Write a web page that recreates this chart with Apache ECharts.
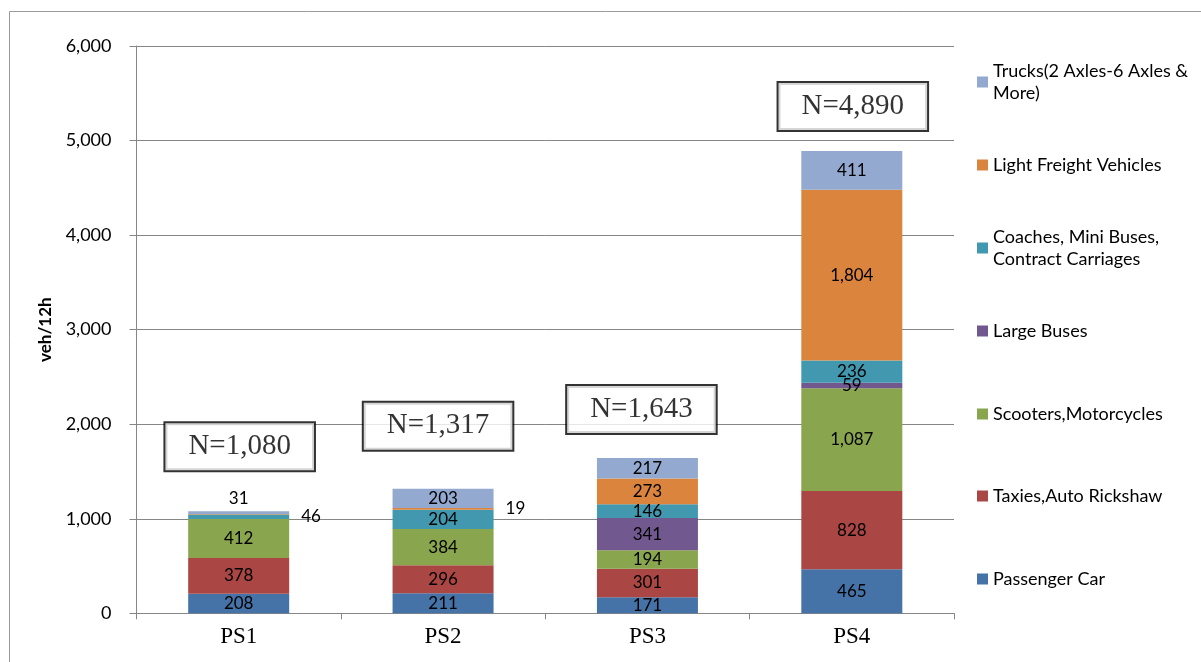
<!DOCTYPE html>
<html>
<head>
<meta charset="utf-8">
<script src="https://cdn.jsdelivr.net/npm/echarts@6/dist/echarts.min.js"></script>
<style>
html,body{margin:0;padding:0;background:#fff;}
#chart{width:1201px;height:662px;}
</style>
</head>
<body>
<div id="chart"></div>
<script>
// ---- data ----
const categories = ['PS1', 'PS2', 'PS3', 'PS4'];
const passengerCar = [208, 211, 171, 465];
const taxiesAutoRickshaw = [378, 296, 301, 828];
const scootersMotorcycles = [412, 384, 194, 1087];
const largeBuses = [0, 0, 341, 59];
const coachesMiniBuses = [46, 204, 146, 236];
const lightFreight = [5, 19, 273, 1804];
const trucks = [31, 203, 217, 411];
const totals = [1080, 1317, 1643, 4890];
const yTicks = [0, 1000, 2000, 3000, 4000, 5000, 6000];

const seriesNames = [
  'Passenger Car',
  'Taxies,Auto Rickshaw',
  'Scooters,Motorcycles',
  'Large Buses',
  'Coaches, Mini Buses, Contract Carriages',
  'Light Freight Vehicles',
  'Trucks(2 Axles-6 Axles & More)'
];
const legendText = {
  'Coaches, Mini Buses, Contract Carriages': 'Coaches, Mini Buses,\nContract Carriages',
  'Trucks(2 Axles-6 Axles & More)': 'Trucks(2 Axles-6 Axles &\nMore)'
};
const seriesValues = [passengerCar, taxiesAutoRickshaw, scootersMotorcycles, largeBuses, coachesMiniBuses, lightFreight, trucks];
const colors = ['#4572A7', '#AA4643', '#89A54E', '#71588F', '#4198AF', '#DB843D', '#93A9CF'];

// ---- styling helpers ----
const sansFont = 'Lato';
const fmt = v => v.toLocaleString('en-US');
// label placement overrides (series index -> category index -> label opts)
const labelOverrides = {
  4: {0: {position: 'right', distance: 12}},
  5: {1: {position: 'right', distance: 12}},
  6: {0: {position: 'top', distance: 4}}
};
const boxLabel = [
  {distance: 41, offset: [1, 0]},
  {distance: 39, offset: [-5, 0]},
  {distance: 25, offset: [-6, 0]},
  {distance: 21, offset: [1, 0]}
];

const barSeries = seriesNames.map((name, si) => ({
  name: name,
  type: 'bar',
  stack: 'total',
  barWidth: 101,
  itemStyle: {color: colors[si]},
  label: {
    show: true,
    position: 'inside',
    color: '#000',
    fontFamily: sansFont,
    fontSize: 17,
    formatter: p => (p.value > 5 ? fmt(p.value) : '')
  },
  data: seriesValues[si].map((v, ci) => {
    const o = labelOverrides[si] && labelOverrides[si][ci];
    return o ? {value: v, label: o} : {value: v};
  })
}));

const totalSeries = {
  name: 'N',
  type: 'scatter',
  symbolSize: 0,
  silent: true,
  z: 10,
  label: {
    show: true,
    position: 'top',
    formatter: p => 'N=' + fmt(p.value),
    fontFamily: 'Liberation Serif',
    fontSize: 29,
    lineHeight: 30,
    color: '#000',
    backgroundColor: '#fff',
    borderColor: '#000',
    borderWidth: 2,
    padding: [8, 23, 9, 23]
  },
  data: totals.map((v, i) => ({value: v, label: boxLabel[i]}))
};

// legend: one block per item so the squares sit at even spacing
const legendOrder = seriesNames.slice().reverse();
const legendSquareY = [82, 165, 248, 331, 414, 496, 579];
const legends = legendOrder.map((name, i) => {
  const twoLine = !!legendText[name];
  return {
    data: [name],
    orient: 'vertical',
    left: 977,
    top: twoLine ? legendSquareY[i] - 33 : legendSquareY[i] - 11,
    padding: 0,
    itemWidth: 11,
    itemHeight: 11,
    icon: 'rect',
    selectedMode: false,
    formatter: n => legendText[n] || n,
    textStyle: {
      fontFamily: sansFont,
      fontSize: 18,
      color: '#000',
      lineHeight: 22,
      padding: twoLine ? [22, 0, 0, 0] : 0
    }
  };
});

const option = {
  animation: false,
  backgroundColor: '#fff',
  color: colors,
  grid: {left: 136.5, right: 247, top: 46, bottom: 48.7},
  legend: legends,
  graphic: [{
    type: 'rect',
    shape: {x: 9.5, y: 11.5, width: 1300, height: 800},
    style: {fill: 'none', stroke: '#9a9a9a', lineWidth: 1},
    silent: true,
    z: -10
  }],
  xAxis: {
    type: 'category',
    data: categories,
    axisLine: {lineStyle: {color: '#868686', width: 1}},
    axisTick: {show: true, length: 6, lineStyle: {color: '#868686'}},
    axisLabel: {
      fontFamily: 'Liberation Serif',
      fontSize: 23,
      color: '#000',
      margin: 12
    }
  },
  yAxis: {
    type: 'value',
    min: yTicks[0],
    max: yTicks[yTicks.length - 1],
    interval: 1000,
    name: 'veh/12h',
    nameLocation: 'middle',
    nameGap: 82,
    nameRotate: 90,
    nameTextStyle: {fontFamily: sansFont, fontSize: 17, fontWeight: 'bold', color: '#000'},
    axisLine: {show: true, lineStyle: {color: '#868686'}},
    axisTick: {show: true, length: 7, lineStyle: {color: '#868686'}},
    splitLine: {show: true, lineStyle: {color: '#868686', width: 1}},
    axisLabel: {
      fontFamily: sansFont,
      fontSize: 18,
      color: '#000',
      margin: 25,
      formatter: v => fmt(v)
    }
  },
  series: barSeries.concat([totalSeries])
};

const chart = echarts.init(document.getElementById('chart'), null, {renderer: 'canvas'});
chart.setOption(option);
</script>
</body>
</html>
